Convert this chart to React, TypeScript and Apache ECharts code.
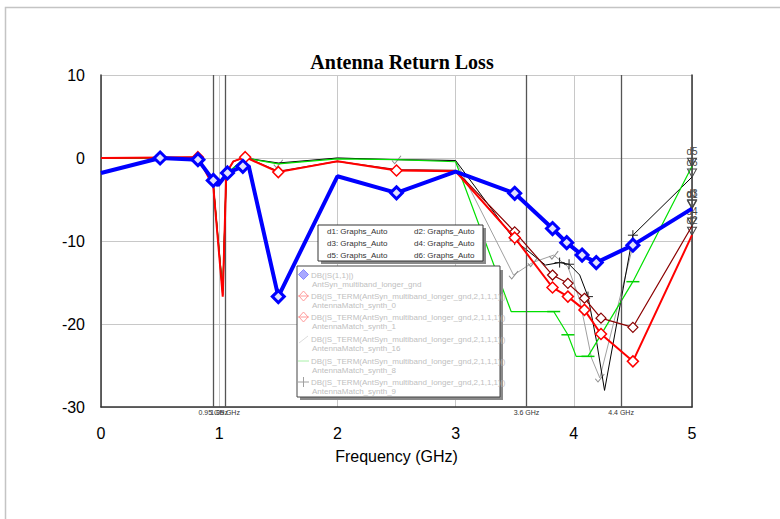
import React, { useEffect, useRef } from "react";
import * as echarts from "echarts";

// ---- data ----
const s11Freq = [0, 0.5, 0.82, 0.95, 0.99, 1.07, 1.2, 1.25, 1.5, 2.0, 2.5, 3.0, 3.5, 3.82, 3.94, 4.07, 4.19, 4.5, 5.0];
const s11Db = [-1.8, 0, -0.2, -2.7, -3.3, -1.8, -1.0, -1.0, -16.7, -2.2, -4.2, -1.65, -4.25, -8.5, -10.2, -11.7, -12.6, -10.5, -6.1];
const s11Mark = [0, 1, 1, 1, 0, 1, 1, 0, 1, 0, 1, 0, 1, 1, 1, 1, 1, 1, 0];

const syn0Freq = [0, 0.82, 0.95, 1.03, 1.06, 1.12, 1.22, 1.5, 2.0, 2.5, 3.0, 3.5, 3.82, 3.95, 4.09, 4.23, 4.5, 5.0];
const syn0Db = [0, 0.1, -3.4, -16.7, -1.8, -0.4, 0.1, -1.7, -0.4, -1.5, -1.6, -9.6, -15.6, -16.7, -18.3, -21.2, -24.5, -9.3];
const syn0Mark = [0, 1, 0, 0, 0, 0, 1, 1, 0, 1, 0, 1, 1, 1, 1, 1, 1, 0];

const syn1Freq = [0, 0.82, 0.95, 1.03, 1.06, 1.12, 1.22, 1.5, 2.0, 2.5, 3.0, 3.5, 3.82, 3.95, 4.09, 4.23, 4.5, 5.0];
const syn1Db = [0, 0.1, -3.3, -16.5, -1.8, -0.4, 0.1, -1.6, -0.4, -1.4, -1.5, -8.9, -14.1, -15.1, -16.9, -19.3, -20.4, -8.2];
const syn1Mark = [0, 0, 0, 0, 0, 0, 0, 0, 0, 0, 0, 1, 1, 1, 1, 1, 1, 0];

const syn8Freq = [0, 0.82, 0.95, 1.03, 1.06, 1.22, 1.5, 2.0, 2.5, 3.0, 3.47, 3.83, 3.95, 4.02, 4.12, 4.5, 5.0];
const syn8Db = [0, 0, -3.2, -16.0, -1.9, 0, -0.7, -0.1, -0.2, -0.45, -18.5, -18.5, -21.3, -23.9, -23.9, -14.9, -1.0];
const syn8Mark = [0, 0, 0, 0, 0, 0, 0, 0, 0, 0, 0, 1, 1, 0, 1, 1, 0];

const syn9Freq = [0, 0.82, 0.95, 1.03, 1.06, 1.22, 1.5, 2.0, 2.5, 3.0, 3.5, 3.76, 3.88, 3.96, 4.05, 4.12, 4.19, 4.26, 4.5, 5.0];
const syn9Db = [0, 0, -3.2, -16.0, -1.9, 0, -0.6, 0, -0.2, -0.3, -9.9, -12.9, -12.6, -12.8, -14.1, -16.7, -21.9, -28.0, -9.3, -2.3];
const syn9Mark = [0, 0, 0, 0, 0, 0, 0, 0, 0, 0, 1, 0, 1, 1, 0, 1, 0, 0, 1, 0];

const syn16Freq = [0, 0.82, 0.95, 1.03, 1.06, 1.22, 1.5, 2.0, 2.5, 3.0, 3.49, 3.65, 3.83, 3.95, 4.05, 4.15, 4.22, 4.5, 5.0];
const syn16Db = [0, 0, -3.2, -16.0, -1.9, 0, -0.7, 0, -0.2, -0.3, -14.1, -12.6, -11.7, -13.1, -17.1, -24.1, -26.5, -10.6, -6.0];
const syn16Mark = [0, 0, 0, 0, 0, 0, 1, 0, 1, 0, 1, 1, 1, 0, 0, 0, 1, 0, 0];

const markerFreqs = [0.95, 1.05, 3.6, 4.4];
const dNames = ["d1", "d2", "d3", "d4", "d5", "d6"];
const dValues = [-6.1, -9.3, -6.0, -8.2, -1.0, -2.3];
const dFreq = 5;

const boxNames = ["d1: Graphs_Auto", "d2: Graphs_Auto", "d3: Graphs_Auto", "d4: Graphs_Auto", "d5: Graphs_Auto", "d6: Graphs_Auto"];
const legendLine1 = [
  "DB(|S(1,1)|)",
  "DB(|S_TERM(AntSyn_multiband_longer_gnd,2,1,1,1)|)",
  "DB(|S_TERM(AntSyn_multiband_longer_gnd,2,1,1,1)|)",
  "DB(|S_TERM(AntSyn_multiband_longer_gnd,2,1,1,1)|)",
  "DB(|S_TERM(AntSyn_multiband_longer_gnd,2,1,1,1)|)",
  "DB(|S_TERM(AntSyn_multiband_longer_gnd,2,1,1,1)|)",
];
const legendLine2 = [
  "AntSyn_multiband_longer_gnd",
  "AntennaMatch_synth_0",
  "AntennaMatch_synth_1",
  "AntennaMatch_synth_16",
  "AntennaMatch_synth_8",
  "AntennaMatch_synth_9",
];

const PLUS = "path://M5,0 L5,10 M0,5 L10,5";
const CHECK = "path://M0,6 L3,10 L10,0";
const DASH = "path://M0,0 L10,0 L10,1 L0,1 Z";

function build(freq: number[], db: number[], mark: number[], sym: string) {
  return freq.map((f, i) => ({ value: [f, db[i]], symbol: mark[i] ? sym : "none" }));
}

export default function App() {
  const ref = useRef<HTMLDivElement>(null);
  useEffect(() => {
    const chart = echarts.init(ref.current!, null, { renderer: "svg" });
    const font = "Liberation Sans, Arial, sans-serif";

    const legendGraphics: any[] = [];
    // frame
    legendGraphics.push({
      type: "polyline",
      shape: { points: [[5.5, 600], [5.5, 7.5], [800, 7.5]] },
      style: { stroke: "#c4c4c4", lineWidth: 1.5, fill: null },
      silent: true,
    });
    // box 1
    legendGraphics.push({ type: "rect", shape: { x: 321, y: 228, width: 165, height: 36 }, style: { fill: "#8a8a8a" }, z: 10 });
    legendGraphics.push({ type: "rect", shape: { x: 318, y: 225, width: 165, height: 36 }, style: { fill: "#fff", stroke: "#333", lineWidth: 1 }, z: 11 });
    boxNames.forEach((t, i) => {
      legendGraphics.push({
        type: "text",
        x: 327 + (i % 2) * 87,
        y: 231 + Math.floor(i / 2) * 12,
        style: { text: t, font: "8px " + font, fill: "#333", textVerticalAlign: "middle" },
        z: 12,
      });
    });
    // box 2
    legendGraphics.push({ type: "rect", shape: { x: 300, y: 270, width: 203, height: 130 }, style: { fill: "#8a8a8a" }, z: 10 });
    legendGraphics.push({ type: "rect", shape: { x: 297, y: 266, width: 203, height: 131 }, style: { fill: "#fff", stroke: "#444", lineWidth: 1 }, z: 11 });
    const rowY = [275, 296, 317, 339, 361, 382];
    legendLine1.forEach((t, i) => {
      legendGraphics.push({
        type: "text", x: 311, y: rowY[i],
        style: { text: t, font: "8px " + font, fill: "#c0c0c0", textVerticalAlign: "middle" }, z: 12,
      });
      legendGraphics.push({
        type: "text", x: 312, y: rowY[i] + 9,
        style: { text: legendLine2[i], font: "8px " + font, fill: "#c0c0c0", textVerticalAlign: "middle" }, z: 12,
      });
    });
    // legend icons
    legendGraphics.push({ type: "polygon", shape: { points: [[303.5, 269.5], [308.5, 274.5], [303.5, 279.5], [298.5, 274.5]] }, style: { fill: "#a8a8ff", stroke: "#8888ff", lineWidth: 1 }, z: 12 });
    [1, 2].forEach((i) => {
      const y = rowY[i];
      legendGraphics.push({ type: "line", shape: { x1: 298, y1: y, x2: 309, y2: y }, style: { stroke: "#ff9a9a", lineWidth: 1 }, z: 12 });
      legendGraphics.push({ type: "polygon", shape: { points: [[303.5, y - 5], [308, y], [303.5, y + 5], [299, y]] }, style: { fill: null, stroke: "#ff9a9a", lineWidth: 1 }, z: 12 });
    });
    legendGraphics.push({ type: "line", shape: { x1: 299, y1: rowY[3] + 4, x2: 308, y2: rowY[3] - 3 }, style: { stroke: "#dcdcdc", lineWidth: 1 }, z: 12 });
    legendGraphics.push({ type: "line", shape: { x1: 298, y1: rowY[4], x2: 309, y2: rowY[4] }, style: { stroke: "#a8f0a8", lineWidth: 1 }, z: 12 });
    legendGraphics.push({ type: "line", shape: { x1: 298, y1: rowY[5], x2: 309, y2: rowY[5] }, style: { stroke: "#a0a0a0", lineWidth: 1 }, z: 12 });
    legendGraphics.push({ type: "line", shape: { x1: 303.5, y1: rowY[5] - 5, x2: 303.5, y2: rowY[5] + 5 }, style: { stroke: "#a0a0a0", lineWidth: 1 }, z: 12 });

    const lineBase = { type: "line", showSymbol: true, showAllSymbol: true, animation: false, silent: true, clip: false };

    chart.setOption({
      animation: false,
      title: {
        text: "Antenna Return Loss",
        left: 397,
        textAlign: "center",
        top: 47,
        textStyle: { fontFamily: "Liberation Serif, Times New Roman, serif", fontWeight: "bold", fontSize: 20, color: "#000" },
      },
      grid: { left: 101, right: 88, top: 75, bottom: 112 },
      xAxis: {
        type: "value", min: 0, max: 5, interval: 1,
        name: "Frequency (GHz)", nameLocation: "middle", nameGap: 41,
        nameTextStyle: { fontFamily: font, fontSize: 16, color: "#000" },
        axisLine: { show: true, onZero: false, lineStyle: { color: "#333", width: 1.5 } },
        axisTick: { show: false },
        axisLabel: { fontFamily: font, fontSize: 16, color: "#000", margin: 18 },
        splitLine: { show: true, lineStyle: { color: "#c8c8c8", width: 1 } },
      },
      yAxis: [
        {
          type: "value", min: -30, max: 10, interval: 10,
          axisLine: { show: true, lineStyle: { color: "#333", width: 1.5 } },
          axisTick: { show: false },
          axisLabel: { fontFamily: font, fontSize: 16, color: "#000", margin: 16 },
          splitLine: { show: true, lineStyle: { color: "#c8c8c8", width: 1 } },
        },
        {
          type: "value", min: -30, max: 10, interval: 10, position: "right",
          axisLine: { show: true, lineStyle: { color: "#333", width: 1.5 } },
          axisTick: { show: false }, axisLabel: { show: false }, splitLine: { show: false },
        },
      ],
      graphic: legendGraphics,
      series: [
        {
          ...lineBase, name: "synth_16", z: 2,
          data: build(syn16Freq, syn16Db, syn16Mark, CHECK),
          symbolSize: [9, 8],
          lineStyle: { color: "#a0a0a0", width: 1 },
          itemStyle: { color: "none", borderColor: "#909090", borderWidth: 1 },
          markLine: {
            silent: true, symbol: "none", animation: false,
            lineStyle: { color: "#555", width: 1.3, type: "solid" },
            label: {
              show: true, position: "start", distance: 2,
              formatter: (p: any) => `${p.value} GHz`,
              fontFamily: font, fontSize: 7, color: "#333",
            },
            data: markerFreqs.map((f) => ({ xAxis: f })),
          },
        },
        {
          ...lineBase, name: "synth_9", z: 3,
          data: build(syn9Freq, syn9Db, syn9Mark, PLUS),
          symbolSize: 10,
          lineStyle: { color: "#000", width: 1 },
          itemStyle: { color: "none", borderColor: "#222", borderWidth: 1 },
        },
        {
          ...lineBase, name: "synth_8", z: 4,
          data: build(syn8Freq, syn8Db, syn8Mark, DASH),
          symbolSize: [13, 1.5],
          lineStyle: { color: "#00e000", width: 1.2 },
          itemStyle: { color: "#00d000" },
        },
        {
          ...lineBase, name: "synth_1", z: 5,
          data: build(syn1Freq, syn1Db, syn1Mark, "diamond"),
          symbolSize: 10,
          lineStyle: { color: "#8b0000", width: 1.2 },
          itemStyle: { color: "#fff", borderColor: "#8b0000", borderWidth: 1.2 },
        },
        {
          ...lineBase, name: "synth_0", z: 6,
          data: build(syn0Freq, syn0Db, syn0Mark, "diamond"),
          symbolSize: 11,
          lineStyle: { color: "#ff0000", width: 2 },
          itemStyle: { color: "#fff", borderColor: "#ff0000", borderWidth: 1.5 },
        },
        {
          ...lineBase, name: "S11", z: 7,
          data: build(s11Freq, s11Db, s11Mark, "diamond"),
          symbolSize: 12,
          lineStyle: { color: "#0000ff", width: 4 },
          itemStyle: { color: "#e0e0ff", borderColor: "#0000ff", borderWidth: 3 },
          markPoint: {
            silent: true, animation: false,
            symbol: "triangle", symbolSize: [9, 8], symbolRotate: 180, symbolOffset: [0, -4],
            itemStyle: { color: "rgba(255,255,255,0)", borderColor: "#444", borderWidth: 1 },
            label: {
              show: true, position: "top", distance: 1,
              formatter: (p: any) => p.name, fontFamily: font, fontSize: 10, color: "#444",
            },
            data: dNames.map((n, i) => ({ name: n, coord: [dFreq, dValues[i]] })),
          },
        },
      ],
    });
    return () => chart.dispose();
  }, []);
  return <div ref={ref} style={{ position: "fixed", left: 0, top: 0, width: 780, height: 519, background: "#fff" }} />;
}
